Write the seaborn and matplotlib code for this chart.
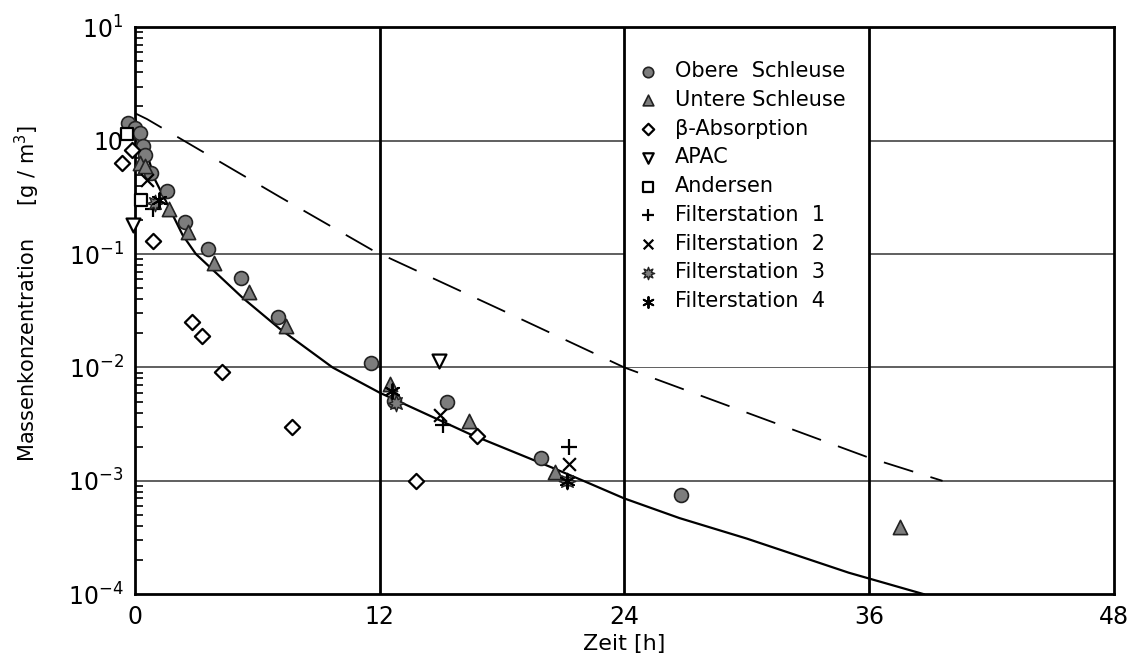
import numpy as np
import pandas as pd
import seaborn as sns
import matplotlib.pyplot as plt
from matplotlib.patches import Rectangle

obere_t = [-0.35, 0.0, 0.25, 0.4, 0.5, 0.8, 1.6, 2.45, 3.6, 5.2, 7.0, 11.6, 12.7, 15.3, 19.9, 26.8]
obere_c = [1.42, 1.3, 1.17, 0.9, 0.74, 0.52, 0.36, 0.19, 0.11, 0.062, 0.028, 0.011, 0.0051, 0.005, 0.0016, 0.00075]

untere_t = [0.25, 0.5, 1.7, 2.6, 3.9, 5.6, 7.4, 12.5, 16.4, 20.6, 37.5]
untere_c = [0.64, 0.6, 0.25, 0.155, 0.083, 0.046, 0.023, 0.0072, 0.0034, 0.0012, 0.00039]

beta_t = [-0.64, -0.15, 0.9, 2.8, 3.3, 4.3, 7.7, 13.8, 16.8]
beta_c = [0.63, 0.82, 0.13, 0.025, 0.019, 0.0091, 0.0030, 0.001, 0.0025]

apac_t = [-0.1, 14.9]
apac_c = [0.18, 0.0114]

andersen_t = [-0.4, 0.3]
andersen_c = [1.15, 0.3]

fs1_t = [0.9, 15.1, 21.3]
fs1_c = [0.25, 0.0031, 0.002]

fs2_t = [0.6, 14.95, 21.3]
fs2_c = [0.45, 0.0038, 0.0014]

fs3_t = [1.0, 12.8, 21.2]
fs3_c = [0.28, 0.0049, 0.001]

fs4_t = [1.2, 12.6, 21.2]
fs4_c = [0.3, 0.0062, 0.001]

# fitted curve (solid) and upper estimate (dashed)
fit_t = [0.0, 0.4, 1.0, 1.5, 2.35, 3.0, 5.3, 7.1, 9.7, 12.0, 16.4, 20.5, 22.0, 24.0, 26.7, 30.0, 35.0, 38.7]
fit_c = [1.6, 1.0, 0.45, 0.3, 0.147, 0.1, 0.041, 0.022, 0.01, 0.006, 0.0026, 0.0013, 0.001, 0.0007, 0.00047, 0.00031, 0.000155, 0.0001]

est_t = [0.0, 0.6, 7.1, 11.7, 18.0, 24.0, 30.0, 36.0, 39.6]
est_c = [1.75, 1.55, 0.32, 0.107, 0.032, 0.01, 0.004, 0.0016, 0.001]

sns.set_theme(style='white')
plt.rcParams['font.family'] = ['DejaVu Sans']
plt.rcParams['text.color'] = 'black'
plt.rcParams['axes.labelcolor'] = 'black'
plt.rcParams['xtick.color'] = 'black'
plt.rcParams['ytick.color'] = 'black'

fig = plt.figure(figsize=(11.32, 6.64), dpi=100)
ax = fig.add_axes([0.119, 0.105, 0.865, 0.854])
ax.set_yscale('log')

sns.lineplot(x=fit_t, y=fit_c, ax=ax, color='black', lw=1.6, sort=False, zorder=3)
sns.lineplot(x=est_t, y=est_c, ax=ax, color='black', lw=1.3, sort=False, zorder=3,
             dashes=False, linestyle=(0, (17, 10)))

gray = '#7d7d7d'
series = [
    ('Obere  Schleuse', obere_t, obere_c, dict(marker='o', s=100, color=gray, edgecolor='#222222', linewidth=1.2)),
    ('Untere Schleuse', untere_t, untere_c, dict(marker='^', s=105, color=gray, edgecolor='#222222', linewidth=1.2)),
    ('β-Absorption', beta_t, beta_c, dict(marker='D', s=60, color='white', edgecolor='black', linewidth=1.6)),
    ('APAC', apac_t, apac_c, dict(marker='v', s=100, color='white', edgecolor='black', linewidth=1.6)),
    ('Andersen', andersen_t, andersen_c, dict(marker='s', s=75, color='white', edgecolor='black', linewidth=1.6)),
    ('Filterstation  1', fs1_t, fs1_c, dict(marker='+', s=130, color='black', linewidth=1.6)),
    ('Filterstation  2', fs2_t, fs2_c, dict(marker='x', s=85, color='black', linewidth=1.6)),
    ('Filterstation  3', fs3_t, fs3_c, dict(marker=(8, 1, 0), s=140, color=gray, edgecolor='#222222', linewidth=1.0)),
    ('Filterstation  4', fs4_t, fs4_c, dict(marker=(6, 2, 0), s=110, color='black', linewidth=1.4)),
]
for name, t, c, kw in series:
    sns.scatterplot(x=t, y=c, ax=ax, label=name, zorder=4, clip_on=False, **kw)

ax.set_xlim(0, 48)
ax.set_ylim(1e-4, 10)
ax.set_xticks([0, 12, 24, 36, 48])
ax.set_yticks([1e-4, 1e-3, 1e-2, 1e-1, 1, 10])
ax.set_yticklabels(['10$^{-4}$', '10$^{-3}$', '10$^{-2}$', '10$^{-1}$', '10', '10$^{1}$'])
ax.tick_params(axis='both', which='major', length=0, labelsize=17, pad=8)
ax.tick_params(axis='y', which='minor', left=True, direction='in', length=6, width=1.2, color='black')
ax.tick_params(axis='x', which='minor', bottom=False)

for y in [1e-3, 1e-2, 1e-1, 1]:
    ax.axhline(y, color='#444444', lw=1.2, zorder=1)
for x in [12, 24, 36]:
    ax.axvline(x, color='black', lw=2.0, zorder=2.5)
for sp in ax.spines.values():
    sp.set_color('black')
    sp.set_linewidth(2.0)

# blank area behind the legend (between the 24 h and 36 h lines)
ax.add_patch(Rectangle((0.5, 0.40), 0.25, 0.60, transform=ax.transAxes,
                       facecolor='white', edgecolor='none', zorder=2))

ax.set_xlabel('Zeit [h]', fontsize=16, labelpad=3)
ax.set_ylabel('Massenkonzentration     [g / m$^3$]', fontsize=15)
ax.yaxis.set_label_coords(-0.095, 0.53)

leg = ax.legend(loc='upper left', bbox_to_anchor=(0.505, 0.955), frameon=False,
                fontsize=15, handletextpad=0.8, labelspacing=0.42, handlelength=1.0,
                borderaxespad=0, markerscale=0.75)

fig.savefig('out.png', dpi=100)
